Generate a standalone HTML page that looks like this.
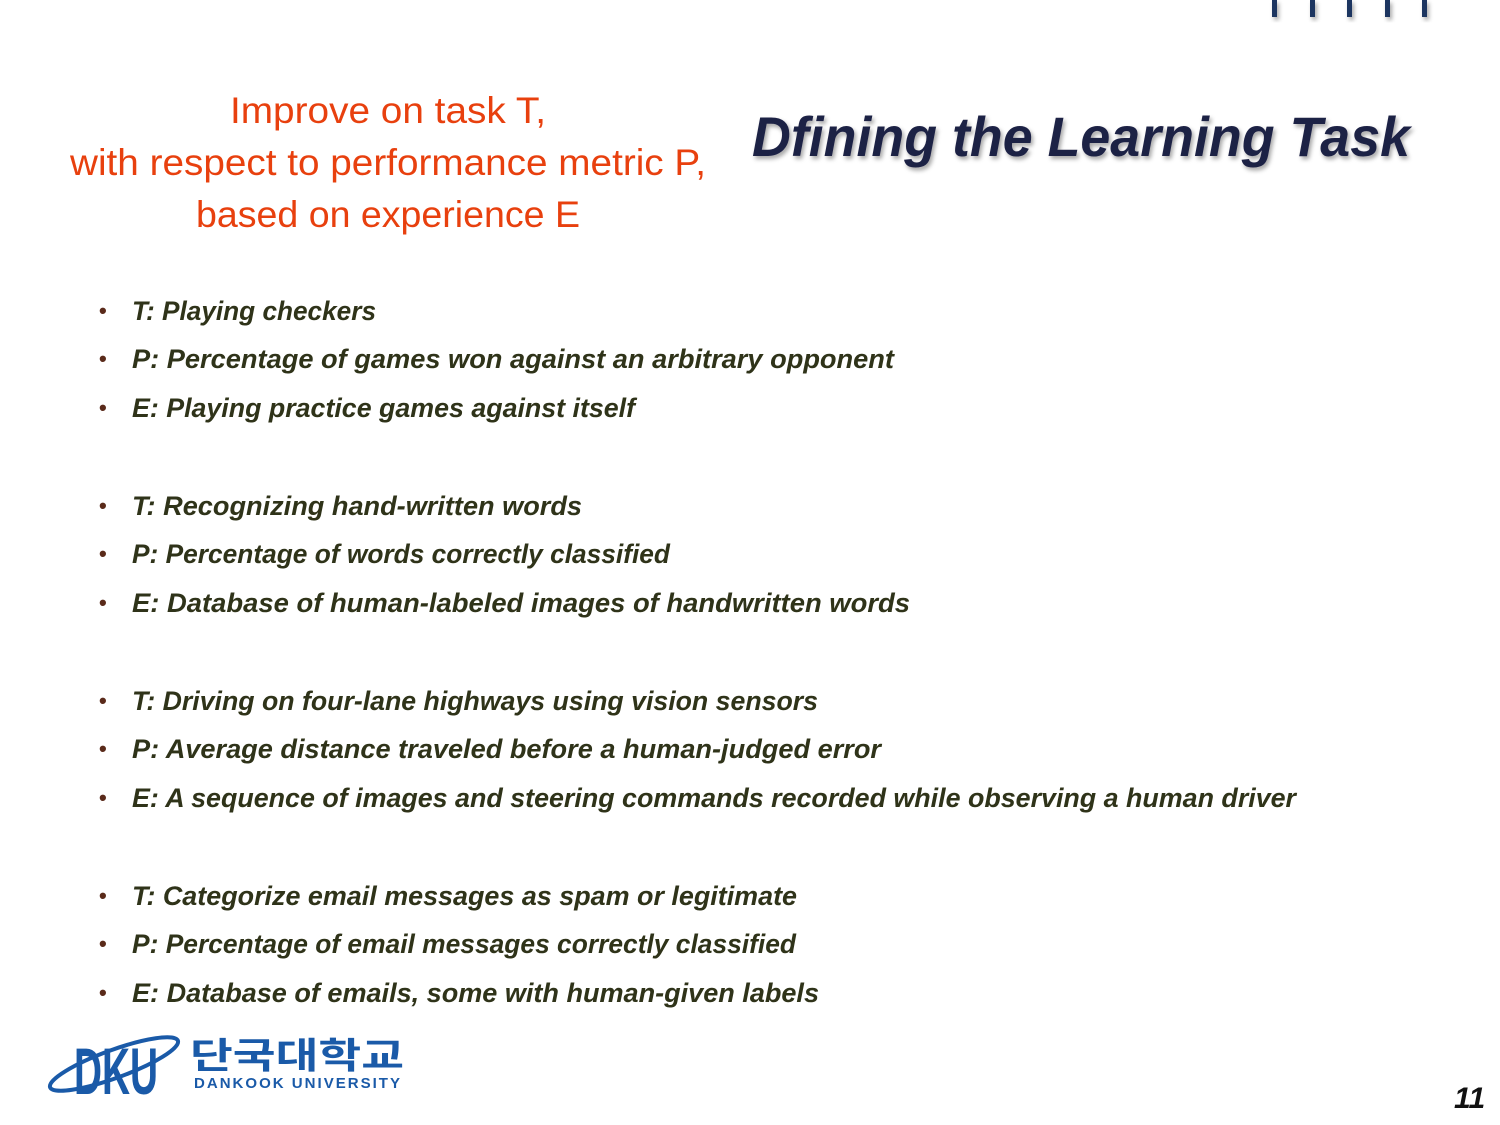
<!DOCTYPE html>
<html><head><meta charset="utf-8"><style>
html,body{margin:0;padding:0;background:#fff;}
svg{display:block;}
</style></head><body>
<svg width="1500" height="1125" viewBox="0 0 1500 1125" xmlns="http://www.w3.org/2000/svg">
<defs><filter id="sh" x="-10%" y="-10%" width="130%" height="140%"><feDropShadow dx="2" dy="3" stdDeviation="2" flood-color="#000" flood-opacity="0.35"/></filter></defs>
<g fill="#1a3560" filter="url(#sh)">
<rect x="1272" y="0" width="5" height="17"/><rect x="1310" y="0" width="5" height="17"/><rect x="1347" y="0" width="5" height="17"/><rect x="1385" y="0" width="5" height="17"/><rect x="1422" y="0" width="5" height="17"/>
</g>
<g fill="#e8400e" font-family="Liberation Sans, sans-serif" font-size="37" text-anchor="middle">
<text x="388" y="123" textLength="316" lengthAdjust="spacingAndGlyphs">Improve on task T,</text>
<text x="388" y="175" textLength="636" lengthAdjust="spacingAndGlyphs">with respect to performance metric P,</text>
<text x="388" y="227" textLength="384" lengthAdjust="spacingAndGlyphs">based on experience E</text>
</g>
<text x="752" y="156" font-family="Liberation Sans, sans-serif" font-weight="bold" font-style="italic" font-size="56" fill="#1f2144" filter="url(#sh)" textLength="658" lengthAdjust="spacingAndGlyphs">Dfining the Learning Task</text>
<g font-family="Liberation Sans, sans-serif" font-weight="bold" font-style="italic" font-size="27" fill="#2f3319">
<g fill="#5a2a1a" font-style="normal" font-size="22">
<text x="99" y="318">•</text><text x="99" y="366">•</text><text x="99" y="415">•</text>
<text x="99" y="513">•</text><text x="99" y="561">•</text><text x="99" y="610">•</text>
<text x="99" y="708">•</text><text x="99" y="756">•</text><text x="99" y="805">•</text>
<text x="99" y="903">•</text><text x="99" y="951">•</text><text x="99" y="1000">•</text>
</g>
<text x="132" y="320" textLength="244" lengthAdjust="spacingAndGlyphs">T: Playing checkers</text>
<text x="132" y="368" textLength="762" lengthAdjust="spacingAndGlyphs">P: Percentage of games won against an arbitrary opponent</text>
<text x="132" y="417" textLength="503" lengthAdjust="spacingAndGlyphs">E: Playing practice games against itself</text>
<text x="132" y="515" textLength="450" lengthAdjust="spacingAndGlyphs">T: Recognizing hand-written words</text>
<text x="132" y="563" textLength="538" lengthAdjust="spacingAndGlyphs">P: Percentage of words correctly classified</text>
<text x="132" y="612" textLength="778" lengthAdjust="spacingAndGlyphs">E: Database of human-labeled images of handwritten words</text>
<text x="132" y="710" textLength="686" lengthAdjust="spacingAndGlyphs">T: Driving on four-lane highways using vision sensors</text>
<text x="132" y="758" textLength="749" lengthAdjust="spacingAndGlyphs">P: Average distance traveled before a human-judged error</text>
<text x="132" y="807" textLength="1164" lengthAdjust="spacingAndGlyphs">E: A sequence of images and steering commands recorded while observing a human driver</text>
<text x="132" y="905" textLength="665" lengthAdjust="spacingAndGlyphs">T: Categorize email messages as spam or legitimate</text>
<text x="132" y="953" textLength="664" lengthAdjust="spacingAndGlyphs">P: Percentage of email messages correctly classified</text>
<text x="132" y="1002" textLength="687" lengthAdjust="spacingAndGlyphs">E: Database of emails, some with human-given labels</text>
</g>
<g fill="#1a5aa8">
<text x="74" y="1094" font-family="Liberation Sans, sans-serif" font-weight="bold" font-size="66" textLength="84" lengthAdjust="spacingAndGlyphs">DKU</text>
<ellipse cx="114" cy="1064" rx="68" ry="14" fill="none" stroke="#1a5aa8" stroke-width="4" transform="rotate(-20 114 1064)"/>
<text x="190" y="1068" font-family="Noto Sans CJK KR, sans-serif" font-weight="bold" font-size="36" textLength="214" lengthAdjust="spacingAndGlyphs">단국대학교</text>
<text x="194" y="1088" font-family="Liberation Sans, sans-serif" font-weight="bold" font-size="15" letter-spacing="2" textLength="208" lengthAdjust="spacingAndGlyphs">DANKOOK UNIVERSITY</text>
</g>
<text x="1454" y="1108" font-family="Liberation Sans, sans-serif" font-weight="bold" font-style="italic" font-size="30" fill="#111">11</text>
</svg>
</body></html>
